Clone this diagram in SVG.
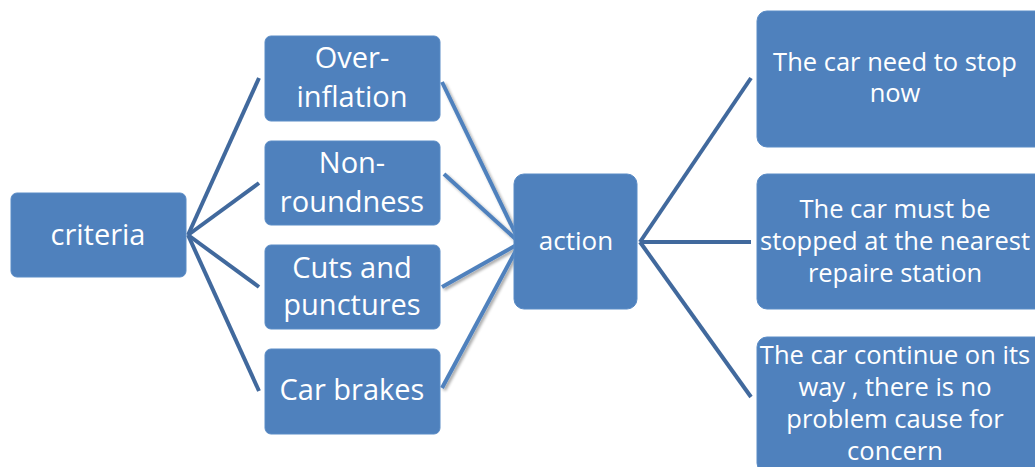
<svg xmlns="http://www.w3.org/2000/svg" width="1035" height="467" viewBox="0 0 1035 467">
<defs>
<style>
.box{fill:#4F81BD;stroke:#5B8CC6;stroke-width:1}
.t{fill:#FFFFFF;font-family:"Open Sans","Liberation Sans",sans-serif;text-anchor:middle}
.big{font-size:29px}
.sm{font-size:25.5px}
.dk{stroke:#41699D;stroke-width:4;fill:none}
.lt{stroke:#4F81BD;stroke-width:4;fill:none}
</style>
<filter id="sh" x="-20%" y="-20%" width="140%" height="140%">
<feGaussianBlur in="SourceAlpha" stdDeviation="1.5"/>
<feOffset dx="2" dy="2" result="b"/>
<feComponentTransfer><feFuncA type="linear" slope="0.35"/></feComponentTransfer>
<feMerge><feMergeNode/><feMergeNode in="SourceGraphic"/></feMerge>
</filter>
</defs>
<rect width="1035" height="467" fill="#FFFFFF"/>
<g id="connectors">
<line class="dk" x1="188" y1="235" x2="259" y2="78"/>
<line class="dk" x1="188" y1="235" x2="259" y2="183"/>
<line class="dk" x1="188" y1="235" x2="259" y2="287"/>
<line class="dk" x1="188" y1="235" x2="259" y2="391"/>
<g filter="url(#sh)">
<line class="lt" x1="442" y1="82" x2="520" y2="243"/>
<line class="lt" x1="444" y1="174" x2="520" y2="243"/>
<line class="lt" x1="442" y1="287" x2="520" y2="243"/>
<line class="lt" x1="442" y1="388" x2="520" y2="243"/>
</g>
<line class="dk" x1="640" y1="242" x2="751" y2="78"/>
<line class="dk" x1="640" y1="242" x2="751" y2="242"/>
<line class="dk" x1="640" y1="242" x2="751" y2="397"/>
</g>
<g id="criteria">
<rect class="box" x="11" y="193" width="175" height="84" rx="6"/>
<text class="t big" x="98" y="245">criteria</text>
</g>
<g id="over-inflation">
<rect class="box" x="265" y="36" width="175" height="85" rx="6"/>
<text class="t big" x="352" y="68">Over-</text>
<text class="t big" x="352" y="107">inflation</text>
</g>
<g id="non-roundness">
<rect class="box" x="265" y="141" width="175" height="84" rx="6"/>
<text class="t big" x="352" y="173">Non-</text>
<text class="t big" x="352" y="212">roundness</text>
</g>
<g id="cuts">
<rect class="box" x="265" y="245" width="175" height="84" rx="6"/>
<text class="t big" x="352" y="278">Cuts and</text>
<text class="t big" x="352" y="315">punctures</text>
</g>
<g id="brakes">
<rect class="box" x="265" y="349" width="175" height="85" rx="6"/>
<text class="t big" x="352" y="400">Car brakes</text>
</g>
<g id="action">
<rect class="box" x="514" y="174" width="123" height="135" rx="10"/>
<text class="t" style="font-size:26px" x="576" y="250">action</text>
</g>
<g id="stop-now">
<rect class="box" x="757" y="11" width="290" height="136" rx="10"/>
<text class="t sm" x="895" y="71">The car need to stop</text>
<text class="t sm" x="895" y="102">now</text>
</g>
<g id="nearest-station">
<rect class="box" x="757" y="174" width="290" height="135" rx="10"/>
<text class="t sm" x="895" y="218">The car must be</text>
<text class="t sm" x="895" y="250">stopped at the nearest</text>
<text class="t sm" x="895" y="282">repaire station</text>
</g>
<g id="continue">
<rect class="box" x="757" y="337" width="290" height="136" rx="10"/>
<text class="t sm" x="895" y="364">The car continue on its</text>
<text class="t sm" x="895" y="396">way , there is no</text>
<text class="t sm" x="895" y="428">problem cause for</text>
<text class="t sm" x="895" y="460">concern</text>
</g>
</svg>
